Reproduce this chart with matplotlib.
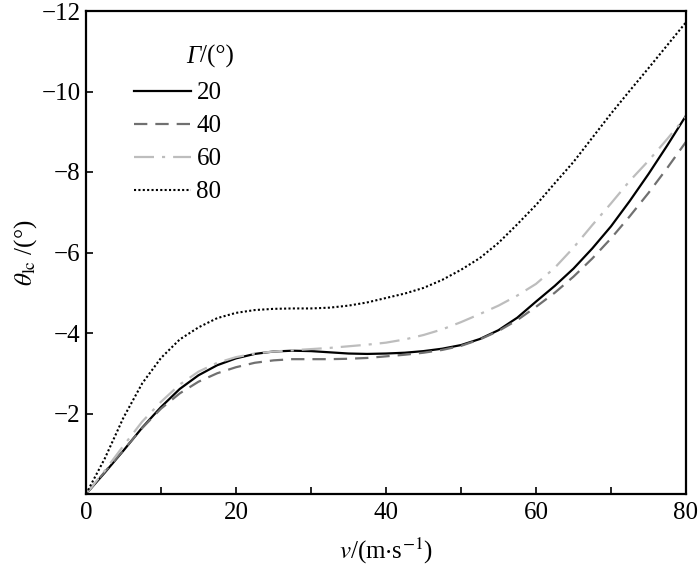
import matplotlib
matplotlib.use("Agg")
import matplotlib.pyplot as plt
from matplotlib.ticker import MultipleLocator

plt.rcParams['font.family'] = ['Liberation Serif', 'DejaVu Serif']
plt.rcParams['mathtext.fontset'] = 'stix'
plt.rcParams['axes.unicode_minus'] = True

v = [0, 2.5, 5, 7.5, 10, 12.5, 15, 17.5, 20, 22.5, 25, 27.5, 30, 32.5, 35, 37.5,
     40, 42.5, 45, 47.5, 50, 52.5, 55, 57.5, 60, 62.5, 65, 67.5, 70, 72.5, 75, 77.5, 80]

theta_20 = [0, -0.53, -1.08, -1.65, -2.16, -2.61, -2.95, -3.20, -3.37, -3.48, -3.54, -3.56,
            -3.55, -3.52, -3.49, -3.48, -3.49, -3.51, -3.55, -3.61, -3.70, -3.85, -4.07,
            -4.38, -4.78, -5.17, -5.60, -6.10, -6.65, -7.28, -7.95, -8.66, -9.40]
theta_40 = [0, -0.55, -1.09, -1.64, -2.12, -2.50, -2.79, -3.00, -3.15, -3.26, -3.32, -3.35,
            -3.35, -3.35, -3.36, -3.38, -3.42, -3.46, -3.51, -3.58, -3.68, -3.84, -4.05,
            -4.32, -4.65, -5.00, -5.40, -5.85, -6.35, -6.90, -7.48, -8.10, -8.75]
theta_60 = [0, -0.58, -1.20, -1.80, -2.29, -2.72, -3.04, -3.26, -3.40, -3.49, -3.54, -3.57,
            -3.60, -3.63, -3.67, -3.71, -3.76, -3.84, -3.95, -4.09, -4.27, -4.47, -4.68,
            -4.93, -5.22, -5.62, -6.12, -6.68, -7.22, -7.78, -8.28, -8.82, -9.38]
theta_80 = [0, -0.88, -1.90, -2.75, -3.38, -3.84, -4.14, -4.37, -4.50, -4.57, -4.60, -4.61,
            -4.61, -4.63, -4.68, -4.76, -4.87, -4.98, -5.12, -5.32, -5.57, -5.86, -6.24,
            -6.70, -7.18, -7.72, -8.25, -8.85, -9.45, -10.02, -10.58, -11.15, -11.72]

labels = ['20', '40', '60', '80']
x_ticks = [0, 20, 40, 60, 80]
y_ticks = [-2, -4, -6, -8, -10, -12]

fig = plt.figure(figsize=(7.0, 5.66), dpi=100)
ax = fig.add_axes([86/700, 72/566, 600/700, 483/566])

ax.plot(v, theta_20, color='black', lw=1.6, ls='-', label=labels[0])
ax.plot(v, theta_40, color='#707070', lw=1.6, ls=(0, (6, 3.6)), label=labels[1])
ax.plot(v, theta_60, color='#bdbdbd', lw=1.6, ls=(0, (9, 3.6, 1.4, 3.6)), label=labels[2])
ax.plot(v, theta_80, color='black', lw=1.5, ls=(0, (1, 1.1)), label=labels[3])

ax.set_xlim(0, 80)
ax.set_ylim(0, -12)
ax.set_xticks(x_ticks)
ax.xaxis.set_minor_locator(MultipleLocator(10))
ax.set_yticks(y_ticks)
ax.tick_params(which='both', direction='in', length=5, width=1.2, labelsize=18,
               top=False, right=False)
ax.tick_params(axis='x', pad=6)
ax.tick_params(axis='y', pad=4)
for s in ax.spines.values():
    s.set_linewidth(1.6)

ax.set_xlabel(r'$v$/(m$\cdot$s$^{-1}$)', fontsize=18, labelpad=8)
ax.set_ylabel(r'$\theta_{\mathrm{lc}}$ /(°)', fontsize=18, labelpad=2)

leg = ax.legend(loc='upper left', bbox_to_anchor=(0.059, 0.879), frameon=False,
                fontsize=18, handlelength=2.3, handletextpad=0.2,
                labelspacing=0.42, borderpad=0)

ax.text(0.19, 0.905, 'Γ', style='italic', fontsize=18, ha='right', va='center',
        transform=ax.transAxes)
ax.text(0.19, 0.905, '/(°)', fontsize=18, ha='left', va='center',
        transform=ax.transAxes)

fig.savefig('out.png', dpi=100)
